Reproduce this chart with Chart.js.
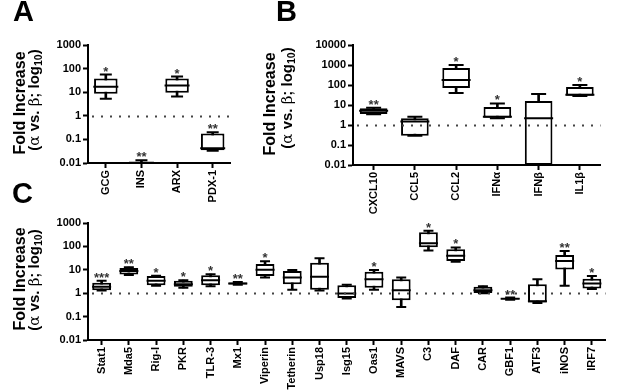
<!DOCTYPE html>
<html>
<head>
<meta charset="utf-8">
<script src="https://cdn.jsdelivr.net/npm/chart.js@4.4.1/dist/chart.umd.min.js"></script>
<style>
  html, body { margin:0; padding:0; background:#fff; }
  #wrap { position:relative; width:617px; height:391px; background:#fff; overflow:hidden; font-family:"Liberation Sans", Arial, sans-serif; }
  canvas { position:absolute; }
  .lbl { position:absolute; font-weight:bold; color:#000; white-space:nowrap; }
  .rot { position:absolute; text-align:center; white-space:nowrap; transform:rotate(-90deg); color:#000; font-weight:bold; }
  .gk { font-family:"DejaVu Serif","Liberation Serif",serif; font-weight:normal; }
  sub { font-size:70%; vertical-align:-3px; line-height:0; }
</style>
</head>
<body>
<div id="wrap">
  <canvas id="cA" width="245" height="218" style="left:0;top:0"></canvas>
  <canvas id="cB" width="367" height="218" style="left:250px;top:0"></canvas>
  <canvas id="cC" width="617" height="191" style="left:0;top:200px"></canvas>

  <div class="lbl" style="left:13px;top:-3px;font-size:29px;line-height:29px">A</div>
  <div class="lbl" style="left:276px;top:-3px;font-size:29px;line-height:29px">B</div>
  <div class="lbl" style="left:12px;top:179px;font-size:29px;line-height:29px">C</div>

  <div class="rot" style="left:-50px;top:93px;width:140px;height:20px;line-height:20px;font-size:16px">Fold Increase</div>
  <div class="rot" style="left:-36px;top:90px;width:140px;height:20px;line-height:20px;font-size:15px">(<span class="gk">α</span> vs. <span class="gk">β</span>; log<sub>10</sub>)</div>

  <div class="rot" style="left:200px;top:94px;width:140px;height:20px;line-height:20px;font-size:16px">Fold Increase</div>
  <div class="rot" style="left:217px;top:88px;width:140px;height:20px;line-height:20px;font-size:15px">(<span class="gk">α</span> vs. <span class="gk">β</span>; log<sub>10</sub>)</div>

  <div class="rot" style="left:-50px;top:269px;width:140px;height:20px;line-height:20px;font-size:16px">Fold Increase</div>
  <div class="rot" style="left:-36px;top:270px;width:140px;height:20px;line-height:20px;font-size:15px">(<span class="gk">α</span> vs. <span class="gk">β</span>; log<sub>10</sub>)</div>
</div>
<script>
// ---------- Panel A ----------
const catsA  = ['GCG', 'INS', 'ARX', 'PDX-1'];
const minA   = [5.3, 0.01, 6.5, 0.033];
const q1A    = [8.7, 0.01, 9.5, 0.035];
const medA   = [17, 0.0102, 19, 0.042];
const q3A    = [38, 0.0107, 38, 0.18];
const maxA   = [56, 0.013, 46, 0.2];
const starsA = ['*', '**', '*', '**'];
const yTicksA = [0.01, 0.1, 1, 10, 100, 1000];

// ---------- Panel B ----------
const catsB  = ['CXCL10', 'CCL5', 'CCL2', 'IFNα', 'IFNβ', 'IL1β'];
const minB   = [3.4, 0.29, 40, 2.2, 0.01, 28];
const q1B    = [3.5, 0.29, 70, 2.3, 0.01, 29];
const medB   = [5.2, 1.5, 180, 2.6, 2.2, 33];
const q3B    = [6.8, 2.2, 700, 8, 16, 80];
const maxB   = [7.2, 2.6, 1000, 12, 35, 100];
const starsB = ['**', '', '*', '*', '', '*'];
const yTicksB = [0.01, 0.1, 1, 10, 100, 1000, 10000];

// ---------- Panel C ----------
const catsC  = ['Stat1','Mda5','Rig-I','PKR','TLR-3','Mx1','Viperin','Tetherin','Usp18','Isg15','Oas1','MAVS','C3','DAF','CAR','GBF1','ATF3','iNOS','IRF7'];
const minC   = [1.3, 6, 2.1, 1.7, 2, 2.3, 4.7, 1.4, 1.3, 0.6, 1.4, 0.26, 66, 22, 1.0, 0.53, 0.38, 2.1, 1.5];
const q1C    = [1.35, 6.3, 2.2, 1.9, 2.2, 2.35, 5.4, 2.4, 1.4, 0.63, 1.7, 0.5, 91, 24, 1.03, 0.55, 0.4, 10.4, 1.6];
const medC   = [1.9, 8.8, 3.4, 2.4, 3.6, 2.6, 10, 4.7, 5, 0.97, 3.9, 1.35, 135, 40, 1.35, 0.58, 0.45, 24, 2.6];
const q3C    = [2.8, 12, 5.4, 3.4, 5.9, 2.9, 17.5, 8.8, 20, 2.2, 8.2, 3.9, 400, 75, 1.9, 0.62, 2.4, 43, 4.1];
const maxC   = [3.4, 13, 5.6, 3.6, 6.5, 3.0, 23, 9.7, 31, 2.3, 9.7, 4.7, 470, 90, 2.0, 0.65, 3.9, 63, 5.4];
const starsC = ['***','**','*','*','*','**','*','','','','*','','*','*','','**','','**','*'];
const yTicksC = [0.01, 0.1, 1, 10, 100, 1000];

const refLine = 1;

Chart.defaults.font.family = '"Liberation Sans", Arial, sans-serif';
Chart.defaults.color = '#000';

const extras = {
  id: 'extras',
  afterDatasetsDraw(chart, args, opts) {
    const ctx = chart.ctx, ca = chart.chartArea;
    const xs = chart.scales.x, ys = chart.scales.y;
    ctx.save();
    // dotted reference line at fold = 1
    const y1 = Math.round(ys.getPixelForValue(refLine)) + 0.5;
    ctx.strokeStyle = '#444';
    ctx.lineWidth = 2;
    ctx.setLineDash([2, 7]);
    ctx.beginPath();
    ctx.moveTo(ca.left + 4, y1);
    ctx.lineTo(ca.right, y1);
    ctx.stroke();
    ctx.setLineDash([]);
    // significance stars
    ctx.fillStyle = '#333';
    ctx.font = 'bold 13px "Liberation Sans", Arial, sans-serif';
    ctx.textAlign = 'center';
    ctx.textBaseline = 'alphabetic';
    opts.stars.forEach((s, i) => {
      if (!s) return;
      const x = xs.getPixelForValue(i);
      const y = ys.getPixelForValue(opts.top[i]);
      ctx.fillText(s, x, y + 1);
    });
    ctx.restore();
  }
};

function boxChart(id, cats, mn, q1, md, q3, mx, stars, ticks, cfg) {
  const tickFont = { family: '"Liberation Sans", Arial, sans-serif', weight: 'bold', size: 11 };
  return new Chart(document.getElementById(id), {
    type: 'bar',
    data: {
      labels: cats,
      datasets: [
        { type: 'bar', data: cats.map((_, i) => [mn[i], mx[i]]), backgroundColor: '#000',
          barThickness: 2, grouped: false, order: 4 },
        { type: 'bar', data: cats.map((_, i) => [q1[i], q3[i]]), backgroundColor: '#fff',
          borderColor: '#000', borderWidth: 2, borderSkipped: false, grouped: false,
          categoryPercentage: 1, barPercentage: cfg.boxPct, order: 3 },
        { type: 'line', data: md, showLine: false, pointStyle: 'line', pointRadius: cfg.halfBox,
          pointHoverRadius: cfg.halfBox, pointBorderWidth: 2, pointBorderColor: '#000', order: 2 },
        { type: 'line', data: mx, showLine: false, pointStyle: 'line', pointRadius: cfg.cap,
          pointHoverRadius: cfg.cap, pointBorderWidth: 2, pointBorderColor: '#000', order: 1 },
        { type: 'line', data: mn, showLine: false, pointStyle: 'line', pointRadius: cfg.cap,
          pointHoverRadius: cfg.cap, pointBorderWidth: 2, pointBorderColor: '#000', order: 1 }
      ]
    },
    options: {
      responsive: false,
      animation: false,
      events: [],
      layout: { padding: { top: cfg.top, right: cfg.right, left: 0, bottom: 0 } },
      plugins: {
        legend: { display: false },
        tooltip: { enabled: false },
        extras: { stars: stars, top: mx }
      },
      scales: {
        x: {
          type: 'category',
          offset: true,
          grid: { display: true, drawOnChartArea: false, drawTicks: true, tickLength: 5,
                  tickColor: '#000', tickWidth: 2, offset: false },
          border: { display: true, color: '#000', width: 2 },
          ticks: { autoSkip: false, maxRotation: 90, minRotation: 90, padding: 2, font: tickFont, color: '#000' },
          afterFit: s => { s.height = cfg.xh; }
        },
        y: {
          type: 'logarithmic',
          min: ticks[0],
          max: ticks[ticks.length - 1],
          afterBuildTicks: s => { s.ticks = ticks.map(v => ({ value: v })); },
          grid: { display: true, drawOnChartArea: false, drawTicks: true, tickLength: 5,
                  tickColor: '#000', tickWidth: 2 },
          border: { display: true, color: '#000', width: 2 },
          ticks: { padding: 2, font: tickFont, color: '#000', callback: v => String(v) },
          afterFit: s => { s.width = cfg.yw; }
        }
      }
    },
    plugins: [extras]
  });
}

boxChart('cA', catsA, minA, q1A, medA, q3A, maxA, starsA, yTicksA,
  { top: 45, right: 6, xh: 55, yw: 88, boxPct: 0.66, halfBox: 12.5, cap: 6 });
boxChart('cB', catsB, minB, q1B, medB, q3B, maxB, starsB, yTicksB,
  { top: 45, right: 4, xh: 53, yw: 103, boxPct: 0.67, halfBox: 14.5, cap: 7.5 });
boxChart('cC', catsC, minC, q1C, medC, q3C, maxC, starsC, yTicksC,
  { top: 23, right: 2, xh: 51, yw: 88, boxPct: 0.69, halfBox: 9.5, cap: 5 });
</script>
</body>
</html>
